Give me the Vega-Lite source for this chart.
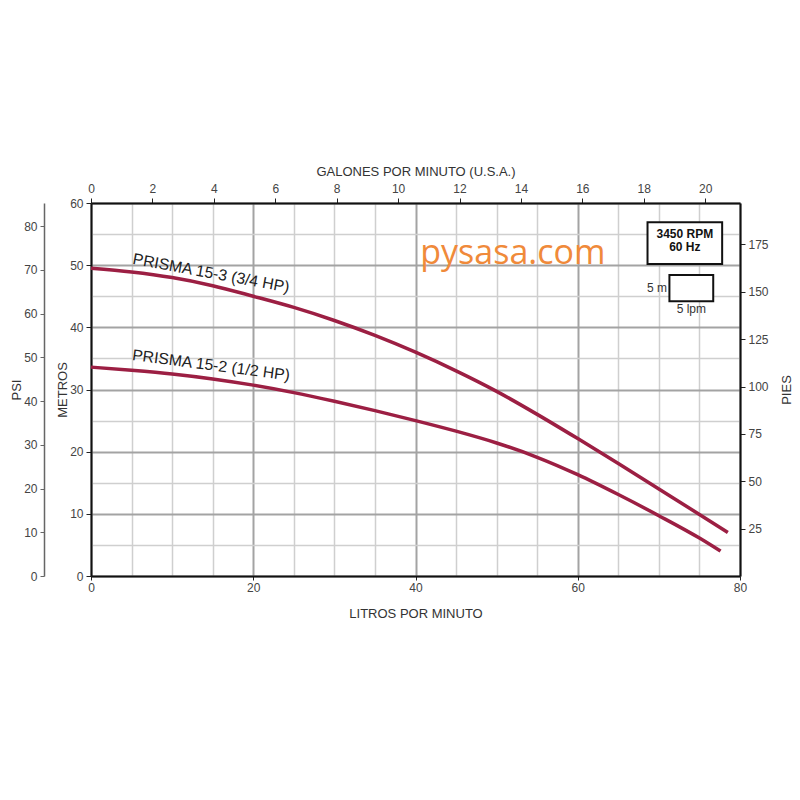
{
  "$schema": "https://vega.github.io/schema/vega-lite/v6.json",
  "width": 649,
  "height": 373,
  "autosize": "none",
  "padding": {"left": 91, "top": 203, "right": 60, "bottom": 224},
  "background": "white",
  "config": {
    "view": {"stroke": null},
    "axis": {
      "labelFont": "Liberation Sans",
      "titleFont": "Liberation Sans",
      "labelColor": "#444",
      "titleColor": "#333",
      "labelFontSize": 12,
      "titleFontSize": 13,
      "titleFontWeight": "normal",
      "labelFlush": false
    }
  },
  "layer": [
    {
      "data": {"values": [{"lpm": 0, "m": 0}, {"lpm": 80, "m": 60}]},
      "mark": {"type": "point", "opacity": 0},
      "encoding": {
        "x": {
          "field": "lpm", "type": "quantitative",
          "scale": {"domain": [0, 80], "nice": false, "zero": false},
          "axis": {
            "orient": "bottom", "title": null,
            "values": [5, 10, 15, 25, 30, 35, 45, 50, 55, 65, 70, 75],
            "labels": false, "ticks": false, "domain": false,
            "grid": true, "gridColor": "#cfcfcf", "gridWidth": 1.5
          }
        },
        "y": {
          "field": "m", "type": "quantitative",
          "scale": {"domain": [0, 60], "nice": false, "zero": false},
          "axis": {
            "orient": "left", "title": null,
            "values": [5, 15, 25, 35, 45, 55],
            "labels": false, "ticks": false, "domain": false,
            "grid": true, "gridColor": "#cfcfcf", "gridWidth": 1.5
          }
        }
      }
    },
    {
      "data": {"values": [{"lpm": 0, "m": 0}, {"lpm": 80, "m": 60}]},
      "mark": {"type": "point", "opacity": 0},
      "encoding": {
        "x": {
          "field": "lpm", "type": "quantitative",
          "scale": {"domain": [0, 80], "nice": false, "zero": false},
          "axis": {
            "orient": "bottom", "title": "LITROS POR MINUTO",
            "values": [0, 20, 40, 60, 80],
            "tickColor": "#222", "tickSize": 4, "labelPadding": 2, "titlePadding": 14,
            "domainColor": "#111", "domainWidth": 2,
            "grid": true, "gridColor": "#a3a3a3", "gridWidth": 2
          }
        },
        "y": {
          "field": "m", "type": "quantitative",
          "scale": {"domain": [0, 60], "nice": false, "zero": false},
          "axis": {
            "orient": "left", "title": "METROS",
            "values": [0, 10, 20, 30, 40, 50, 60],
            "tickColor": "#222", "tickSize": 5, "labelPadding": 3, "titlePadding": 0,
            "domainColor": "#111", "domainWidth": 2,
            "grid": true, "gridColor": "#a3a3a3", "gridWidth": 2
          }
        }
      }
    },
    {
      "data": {"values": [{"psi": 0}, {"psi": 85.318}]},
      "mark": {"type": "point", "opacity": 0},
      "encoding": {
        "y": {
          "field": "psi", "type": "quantitative",
          "scale": {"domain": [0, 85.318], "nice": false, "zero": false},
          "axis": {
            "orient": "left", "offset": 47, "title": "PSI",
            "values": [0, 10, 20, 30, 40, 50, 60, 70, 80],
            "grid": false, "domainColor": "#666", "domainWidth": 1.5,
            "tickColor": "#666", "tickSize": 4, "labelPadding": 3, "titlePadding": 0
          }
        }
      }
    },
    {
      "data": {"values": [{"ft": 0}, {"ft": 196.85}]},
      "mark": {"type": "point", "opacity": 0},
      "encoding": {
        "y": {
          "field": "ft", "type": "quantitative",
          "scale": {"domain": [0, 196.85], "nice": false, "zero": false},
          "axis": {
            "orient": "right", "title": "PIES",
            "values": [25, 50, 75, 100, 125, 150, 175],
            "grid": false, "domainColor": "#111", "domainWidth": 2,
            "tickColor": "#222", "tickSize": 5, "labelPadding": 3, "titlePadding": 12,
            "titleAngle": 270, "titleBaseline": "top"
          }
        }
      }
    },
    {
      "data": {"values": [{"gpm": 0}, {"gpm": 21.134}]},
      "mark": {"type": "point", "opacity": 0},
      "encoding": {
        "x": {
          "field": "gpm", "type": "quantitative",
          "scale": {"domain": [0, 21.134], "nice": false, "zero": false},
          "axis": {
            "orient": "top", "title": "GALONES POR MINUTO (U.S.A.)",
            "values": [0, 2, 4, 6, 8, 10, 12, 14, 16, 18, 20],
            "grid": false, "domainColor": "#111", "domainWidth": 2,
            "tickColor": "#222", "tickSize": 5, "labelPadding": 3, "titlePadding": 4
          }
        }
      }
    },
    {
      "layer": [
        {
          "data": {
            "values": [
              {"model": "15-3", "lpm": 0, "m": 49.5},
              {"model": "15-3", "lpm": 5, "m": 48.9},
              {"model": "15-3", "lpm": 10, "m": 48.0},
              {"model": "15-3", "lpm": 15, "m": 46.7},
              {"model": "15-3", "lpm": 20, "m": 45.0},
              {"model": "15-3", "lpm": 25, "m": 43.2},
              {"model": "15-3", "lpm": 30, "m": 41.1},
              {"model": "15-3", "lpm": 35, "m": 38.7},
              {"model": "15-3", "lpm": 40, "m": 36.0},
              {"model": "15-3", "lpm": 45, "m": 33.0},
              {"model": "15-3", "lpm": 50, "m": 29.7},
              {"model": "15-3", "lpm": 55, "m": 26.0},
              {"model": "15-3", "lpm": 60, "m": 22.1},
              {"model": "15-3", "lpm": 65, "m": 18.1},
              {"model": "15-3", "lpm": 70, "m": 14.0},
              {"model": "15-3", "lpm": 75, "m": 9.9},
              {"model": "15-3", "lpm": 78.5, "m": 7.0},
              {"model": "15-2", "lpm": 0, "m": 33.6},
              {"model": "15-2", "lpm": 5, "m": 33.1},
              {"model": "15-2", "lpm": 10, "m": 32.5},
              {"model": "15-2", "lpm": 15, "m": 31.7},
              {"model": "15-2", "lpm": 20, "m": 30.7},
              {"model": "15-2", "lpm": 25, "m": 29.5},
              {"model": "15-2", "lpm": 30, "m": 28.1},
              {"model": "15-2", "lpm": 35, "m": 26.6},
              {"model": "15-2", "lpm": 40, "m": 25.0},
              {"model": "15-2", "lpm": 45, "m": 23.3},
              {"model": "15-2", "lpm": 50, "m": 21.4},
              {"model": "15-2", "lpm": 55, "m": 19.1},
              {"model": "15-2", "lpm": 60, "m": 16.3},
              {"model": "15-2", "lpm": 65, "m": 13.1},
              {"model": "15-2", "lpm": 70, "m": 9.7},
              {"model": "15-2", "lpm": 75, "m": 6.1},
              {"model": "15-2", "lpm": 77.6, "m": 4.0}
            ]
          },
          "mark": {"type": "line", "interpolate": "monotone", "color": "#9c1f43", "strokeWidth": 3.5},
          "encoding": {
            "x": {"field": "lpm", "type": "quantitative", "scale": {"domain": [0, 80], "nice": false, "zero": false}, "axis": null},
            "y": {"field": "m", "type": "quantitative", "scale": {"domain": [0, 60], "nice": false, "zero": false}, "axis": null},
            "detail": {"field": "model"}
          }
        },
        {
          "data": {"values": [{"lpm": 14.8, "m": 48.7, "label": "PRISMA 15-3 (3/4 HP)"}]},
          "mark": {"type": "text", "angle": 10.4, "font": "Liberation Sans", "fontSize": 15.8, "color": "#222", "align": "center", "baseline": "middle"},
          "encoding": {
            "x": {"field": "lpm", "type": "quantitative", "axis": null},
            "y": {"field": "m", "type": "quantitative", "axis": null},
            "text": {"field": "label"}
          }
        },
        {
          "data": {"values": [{"lpm": 14.8, "m": 33.9, "label": "PRISMA 15-2 (1/2 HP)"}]},
          "mark": {"type": "text", "angle": 7.4, "font": "Liberation Sans", "fontSize": 15.8, "color": "#222", "align": "center", "baseline": "middle"},
          "encoding": {
            "x": {"field": "lpm", "type": "quantitative", "axis": null},
            "y": {"field": "m", "type": "quantitative", "axis": null},
            "text": {"field": "label"}
          }
        },
        {
          "data": {"values": [{"lpm": 52, "m": 51.8, "label": "pysasa.com"}]},
          "mark": {"type": "text", "font": "Open Sans", "fontSize": 34, "fontWeight": 500, "color": "#f08a3a", "align": "center", "baseline": "middle"},
          "encoding": {
            "x": {"field": "lpm", "type": "quantitative", "axis": null},
            "y": {"field": "m", "type": "quantitative", "axis": null},
            "text": {"field": "label"}
          }
        },
        {
          "data": {"values": [
            {"lpm": 68.6, "lpm2": 77.8, "m": 56.9, "m2": 50.2},
            {"lpm": 71.3, "lpm2": 76.7, "m": 48.4, "m2": 44.2}
          ]},
          "mark": {"type": "rect", "fill": "white", "stroke": "#111", "strokeWidth": 2},
          "encoding": {
            "x": {"field": "lpm", "type": "quantitative", "axis": null},
            "x2": {"field": "lpm2"},
            "y": {"field": "m", "type": "quantitative", "axis": null},
            "y2": {"field": "m2"}
          }
        },
        {
          "data": {"values": [
            {"lpm": 73.2, "m": 55.0, "label": "3450 RPM"},
            {"lpm": 73.2, "m": 52.9, "label": "60 Hz"}
          ]},
          "mark": {"type": "text", "font": "Liberation Sans", "fontSize": 12, "fontWeight": "bold", "color": "#111", "align": "center", "baseline": "middle"},
          "encoding": {
            "x": {"field": "lpm", "type": "quantitative", "axis": null},
            "y": {"field": "m", "type": "quantitative", "axis": null},
            "text": {"field": "label"}
          }
        },
        {
          "data": {"values": [{"lpm": 71.0, "m": 46.3, "label": "5 m"}]},
          "mark": {"type": "text", "font": "Liberation Sans", "fontSize": 12, "color": "#333", "align": "right", "baseline": "middle"},
          "encoding": {
            "x": {"field": "lpm", "type": "quantitative", "axis": null},
            "y": {"field": "m", "type": "quantitative", "axis": null},
            "text": {"field": "label"}
          }
        },
        {
          "data": {"values": [{"lpm": 74.0, "m": 42.9, "label": "5 lpm"}]},
          "mark": {"type": "text", "font": "Liberation Sans", "fontSize": 12, "color": "#333", "align": "center", "baseline": "middle"},
          "encoding": {
            "x": {"field": "lpm", "type": "quantitative", "axis": null},
            "y": {"field": "m", "type": "quantitative", "axis": null},
            "text": {"field": "label"}
          }
        }
      ]
    }
  ],
  "resolve": {
    "scale": {"x": "independent", "y": "independent"},
    "axis": {"x": "independent", "y": "independent"}
  }
}
